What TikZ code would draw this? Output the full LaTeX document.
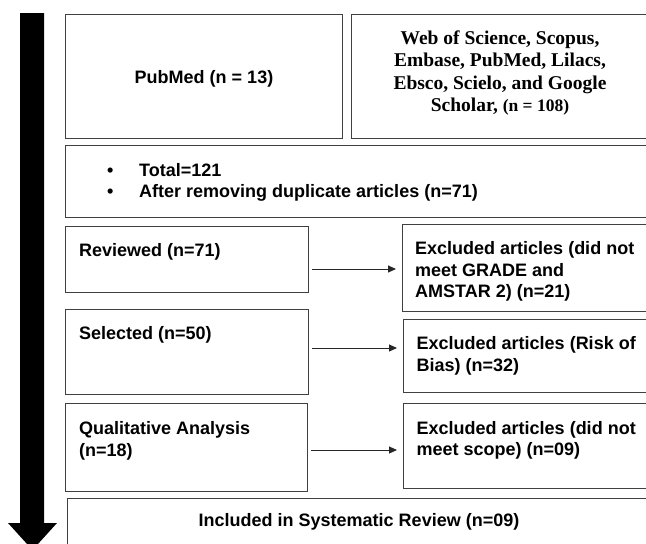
\documentclass[tikz,border=0pt]{standalone}
\usepackage{fontspec}
\setmainfont{Liberation Sans}
\newfontfamily\wosfont{Liberation Serif}
\usetikzlibrary{arrows.meta}

\tikzset{
  box/.style={draw=black!75, line width=1.4pt, fill=white, inner sep=0pt, anchor=north west},
  txt/.style={inner sep=0pt, anchor=base west, align=left, font=\bfseries\fontsize{18}{21.5}\selectfont},
  ctxt/.style={inner sep=0pt, align=center, font=\bfseries\fontsize{18}{21.5}\selectfont},
  flow/.style={draw=black!85, line width=1pt, -{Triangle[length=8pt,width=7pt]}, shorten <=3pt, shorten >=6pt}
}

\begin{document}
\begin{tikzpicture}[x=1pt,y=-1pt]
\useasboundingbox (0,0) rectangle (646,544);
\clip (0,0) rectangle (646,544);

% downward arrow on the left
\fill[black] (20,13) -- (44,13) -- (44,523) -- (57,523) -- (32.5,550) -- (8,523) -- (20,523) -- cycle;

% boxes
\node[box, minimum width=277pt, minimum height=124pt] (pubmed) at (65,14) {};
\node[box, minimum width=300pt, minimum height=124pt] (wos) at (351,14) {};
\node[box, minimum width=586pt, minimum height=72pt] (total) at (65,145) {};
\node[box, minimum width=243pt, minimum height=66pt] (rev) at (65,226) {};
\node[box, minimum width=243pt, minimum height=85pt] (sel) at (65,309) {};
\node[box, minimum width=242pt, minimum height=88pt] (qual) at (65,403) {};
\node[box, minimum width=249pt, minimum height=87pt] (exc1) at (402,224) {};
\node[box, minimum width=248pt, minimum height=73pt] (exc2) at (403,319) {};
\node[box, minimum width=248pt, minimum height=85pt] (exc3) at (403,403) {};
\node[box, minimum width=584pt, minimum height=50pt] (incl) at (67,498) {};

% texts (base = last line)
\node[ctxt] (pubt) at (204,79) {PubMed (n = 13)};
\node[inner sep=0pt, align=center, font=\wosfont\bfseries\fontsize{19.5}{22.5}\selectfont] (wost) at (500,73)
  {Web of Science, Scopus,\\Embase, PubMed, Lilacs,\\Ebsco, Scielo, and Google\\Scholar, {\fontsize{17.5}{22.5}\selectfont(n = 108)}};
\node[txt] (totalt) at (107,197.5)
  {\makebox[32pt][l]{\textbullet}Total=121\\\makebox[32pt][l]{\textbullet}After removing duplicate articles (n=71)};
\node[txt] (revt) at (79,256) {Reviewed (n=71)};
\node[txt] (selt) at (79,339) {Selected (n=50)};
\node[txt] (qualt) at (79,456) {Qualitative Analysis\\(n=18)};
\node[txt] (exc1t) at (415,297.5) {Excluded articles (did not\\meet GRADE and\\AMSTAR 2) (n=21)};
\node[txt] (exc2t) at (416.5,371) {Excluded articles (Risk of\\Bias) (n=32)};
\node[txt] (exc3t) at (416.5,455.5) {Excluded articles (did not\\meet scope) (n=09)};
\node[ctxt] (inclt) at (359,522) {Included in Systematic Review (n=09)};

% arrows
\coordinate (a1) at (0,269);
\coordinate (a2) at (0,348);
\coordinate (a3) at (0,450);
\path[flow] (rev.east |- a1) -- (exc1.west |- a1);
\path[flow] (sel.east |- a2) -- (exc2.west |- a2);
\path[flow] (qual.east |- a3) -- (exc3.west |- a3);
\end{tikzpicture}
\end{document}
